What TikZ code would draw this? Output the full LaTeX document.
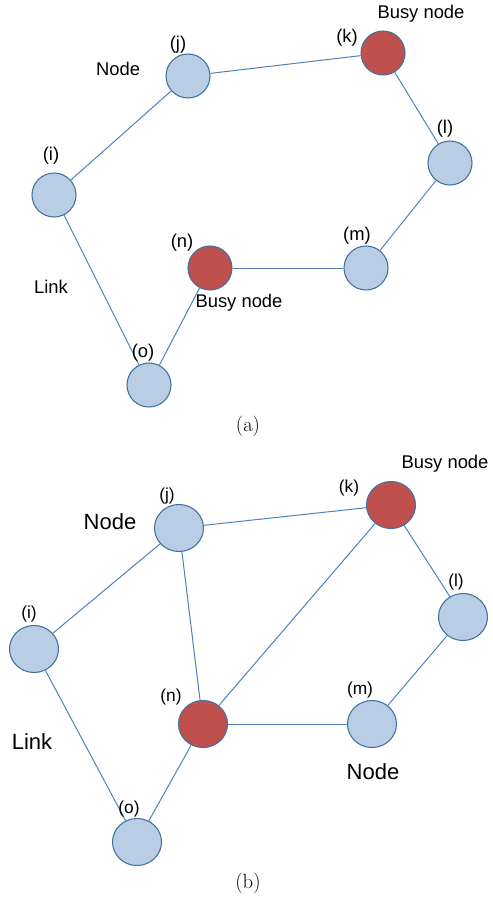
\documentclass[tikz,border=0pt]{standalone}
\usepackage{fontspec}
\setmainfont{Liberation Sans}
\newfontfamily\capfont{Latin Modern Roman}
\usetikzlibrary{shapes.geometric}
\definecolor{nodefill}{HTML}{B9CDE5}
\definecolor{nodeedge}{HTML}{41719C}
\definecolor{busyfill}{HTML}{C0504D}
\definecolor{linkcol}{HTML}{4F81BD}
\tikzset{
  pa/.style={circle, draw=nodeedge, line width=0.8pt, fill=nodefill, minimum size=33pt, inner sep=0pt},
  pabusy/.style={pa, fill=busyfill, draw=nodeedge},
  pb/.style={ellipse, draw=nodeedge, line width=0.8pt, fill=nodefill, minimum width=36.75pt, minimum height=35.25pt, inner sep=0pt},
  pbbusy/.style={pb, fill=busyfill, draw=nodeedge},
  lk/.style={draw=linkcol, line width=0.75pt},
  lbl/.style={font=\fontsize{13.8pt}{15pt}\selectfont, inner sep=0pt},
  lblb/.style={font=\fontsize{13pt}{14pt}\selectfont, inner sep=0pt},
  big/.style={font=\fontsize{16.5pt}{18pt}\selectfont, inner sep=0pt},
  captext/.style={font=\capfont\fontsize{15.5pt}{17pt}\selectfont, inner sep=0pt}
}
\begin{document}
\begin{tikzpicture}[x=0.75pt, y=-0.75pt]
\useasboundingbox (0,0) rectangle (493,897);
% ---- (a) ----
\node[pa] (ai) at (54,195) {};
\node[pa] (aj) at (188,76) {};
\node[pabusy] (ak) at (383,53) {};
\node[pa] (al) at (450,163) {};
\node[pa] (am) at (366,268) {};
\node[pabusy] (an) at (210,268) {};
\node[pa] (ao) at (149,385) {};
\draw[lk] (ai) -- (aj);
\draw[lk] (aj) -- (ak);
\draw[lk] (ak) -- (al);
\draw[lk] (al) -- (am);
\draw[lk] (am) -- (an);
\draw[lk] (an) -- (ao);
\draw[lk] (ao) -- (ai);
\node[lbl] (tak) at (421,14) {Busy node};
\node[lbl] (lak) at (347,38) {(k)};
\node[lbl] (laj) at (178,45) {(j)};
\node[lbl] (tanode) at (118,69) {Node};
\node[lbl] (lal) at (445,129) {(l)};
\node[lbl] (lai) at (51,156) {(i)};
\node[lbl] (lam) at (357,236) {(m)};
\node[lbl] (lan) at (182,243) {(n)};
\node[lbl] (tan) at (239,303) {Busy node};
\node[lbl] (talink) at (51,287) {Link};
\node[lbl] (lao) at (143,353) {(o)};
\node[captext] (capa) at (248,426) {(a)};
% ---- (b) ----
\node[pb] (bi) at (34,649) {};
\node[pb] (bj) at (179,528) {};
\node[pbbusy] (bk) at (391,505) {};
\node[pb] (bl) at (463,617) {};
\node[pb] (bm) at (372,724) {};
\node[pbbusy] (bn) at (203,724) {};
\node[pb] (bo) at (137,842) {};
\draw[lk] (bi) -- (bj);
\draw[lk] (bj) -- (bk);
\draw[lk] (bk) -- (bl);
\draw[lk] (bl) -- (bm);
\draw[lk] (bm) -- (bn);
\draw[lk] (bn) -- (bo);
\draw[lk] (bo) -- (bi);
\draw[lk] (bj) -- (bn);
\draw[lk] (bn) -- (bk);
\node[lbl] (tbk) at (445,464) {Busy node};
\node[lblb] (lbk) at (349,488) {(k)};
\node[lblb] (lbj) at (167,496) {(j)};
\node[big] (tbnode) at (110,522) {Node};
\node[lblb] (lbl) at (456,582) {(l)};
\node[lblb] (lbi) at (29,614) {(i)};
\node[lblb] (lbn) at (171,697) {(n)};
\node[lblb] (lbm) at (360,690) {(m)};
\node[big] (tblink) at (32,742) {Link};
\node[big] (tbnode2) at (373,772) {Node};
\node[lblb] (lbo) at (129,809) {(o)};
\node[captext] (capb) at (248,883) {(b)};
\end{tikzpicture}
\end{document}
